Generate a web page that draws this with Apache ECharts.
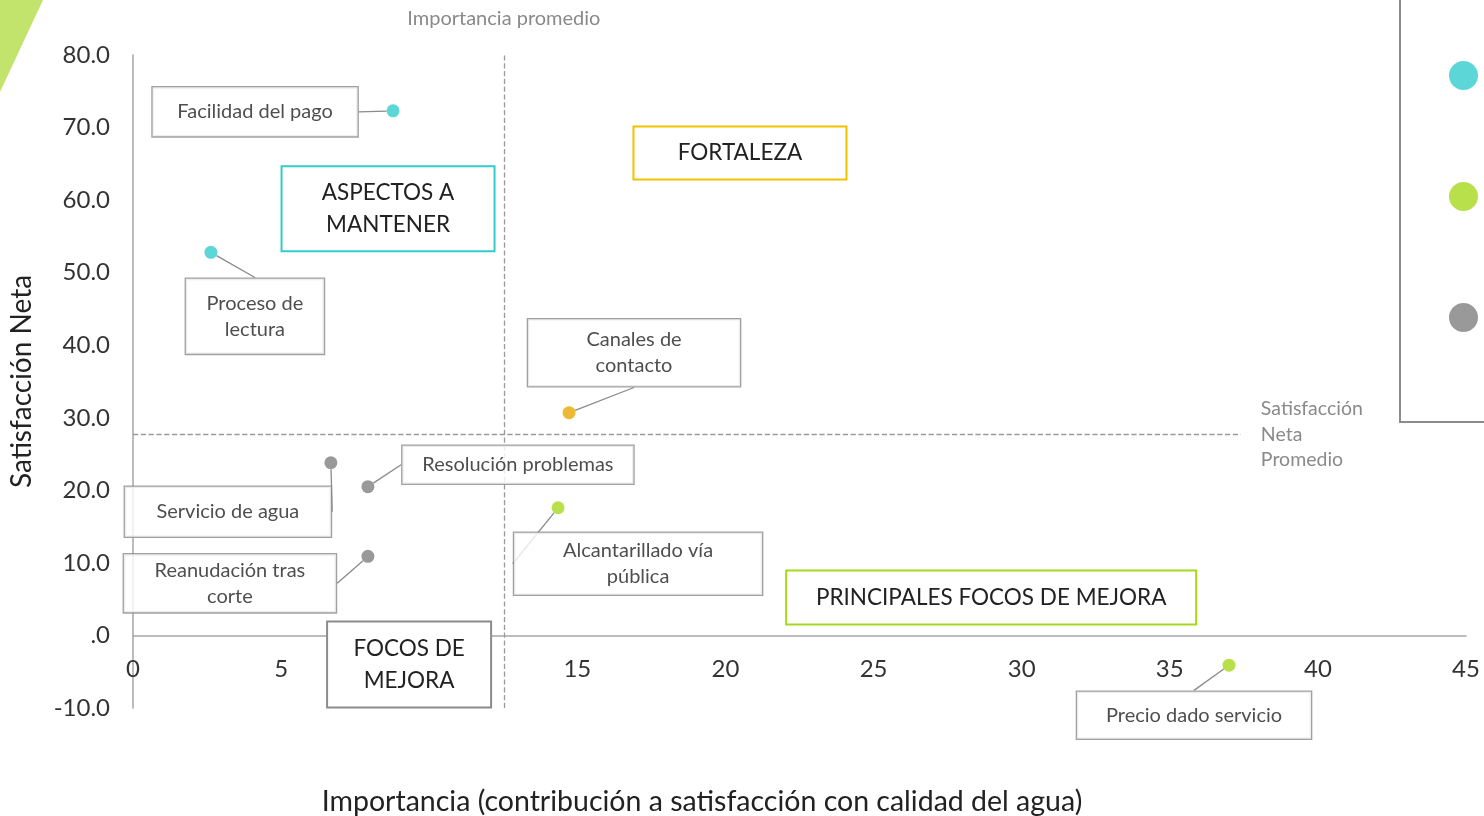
<!DOCTYPE html>
<html>
<head>
<meta charset="utf-8">
<script src="https://cdn.jsdelivr.net/npm/echarts@6/dist/echarts.min.js"></script>
<style>
html, body { margin: 0; padding: 0; background: #fff; }
#chart { width: 1484px; height: 816px; }
</style>
</head>
<body>
<div id="chart"></div>
<script>
var font = 'Lato, "Open Sans", sans-serif';

// axis texts
var xTitle = 'Importancia (contribución a satisfacción con calidad del agua)';
var yTitle = 'Satisfacción Neta';
var avgImportanceLabel = 'Importancia promedio';
var avgSatisfactionLabel = 'Satisfacción\nNeta\nPromedio';

// averages (dashed reference lines)
var avgImportance = 12.52;
var avgSatisfaction = 27.7;
var avgSatisfactionEnd = 37.4;

// groups (legend)
var groupNames = ['Mantener', 'Mejorar', 'Otros'];
var groupColors = ['#33cccc', '#a6d81e', '#7f7f7f'];

// points per group
var mantenerNames = ['Facilidad del pago', 'Proceso de\nlectura'];
var mantenerX = [8.78, 2.63];
var mantenerY = [72.3, 52.8];

var mejorarNames = ['Alcantarillado vía\npública', 'Precio dado servicio'];
var mejorarX = [14.35, 37.0];
var mejorarY = [17.6, -4.1];

var otrosNames = ['Servicio de agua', 'Resolución problemas', 'Reanudación tras\ncorte'];
var otrosX = [6.68, 7.93, 7.93];
var otrosY = [23.8, 20.5, 10.9];

var canalesNames = ['Canales de\ncontacto'];
var canalesX = [14.72];
var canalesY = [30.7];

// callout boxes: [dx, dy, width, height] in px relative to the point
var mantenerBoxes = [[-138, 1, 205, 49], [44, 64, 138, 75]];
var mejorarBoxes = [[80, 56, 248, 62], [-35, 50, 234, 47]];
var otrosBoxes = [[-103, 49, 206, 50], [150, -22, 231, 38], [-138, 27, 212, 58]];
var canalesBoxes = [[65, -60, 212, 67]];

// quadrant tags
var quadNames = ['ASPECTOS A\nMANTENER', 'FORTALEZA', 'PRINCIPALES FOCOS DE MEJORA', 'FOCOS DE\nMEJORA'];
var quadX = [8.61, 20.49, 28.97, 9.32];
var quadY = [58.8, 66.5, 5.23, -4.0];
var quadSizes = [[211, 83], [211, 51], [408, 52], [162, 84]];
var quadColors = ['#33cccc', '#f2c200', '#a6d81e', '#8c8c8c'];

function pointSeries(name, color, names, xs, ys, boxes) {
  return {
    name: name,
    type: 'scatter',
    symbolSize: 13,
    z: 5,
    itemStyle: { color: color },
    data: names.map(function (n, i) {
      return {
        name: n,
        value: [xs[i], ys[i]],
        label: { width: boxes[i][2], height: boxes[i][3] }
      };
    }),
    label: {
      show: true,
      position: 'inside',
      formatter: '{b}',
      align: 'center',
      verticalAlign: 'middle',
      color: '#222',
      fontFamily: font,
      fontSize: 20,
      lineHeight: 26,
      backgroundColor: '#fff',
      borderColor: '#8a8a8a',
      borderWidth: 1.3
    },
    labelLine: { show: true, lineStyle: { color: '#8a8a8a', width: 1.3 } },
    labelLayout: function (p) {
      var b = boxes[p.dataIndex];
      return { dx: b[0], dy: b[1] };
    }
  };
}

var chart = echarts.init(document.getElementById('chart'));

chart.setOption({
  backgroundColor: '#fff',
  animation: false,
  textStyle: { fontFamily: font },
  grid: { left: 133, right: 18, top: 55, bottom: 108, outerBoundsMode: 'none', containLabel: false },
  legend: {
    data: groupNames,
    orient: 'vertical',
    left: 1400,
    top: -10,
    padding: [71, 40, 90, 49],
    itemWidth: 29,
    itemHeight: 29,
    itemGap: 92,
    icon: 'circle',
    borderColor: '#8c8c8c',
    borderWidth: 2,
    textStyle: { color: '#333', fontSize: 18, padding: [0, 0, 0, 20] }
  },
  xAxis: {
    type: 'value',
    min: 0,
    max: 45,
    interval: 5,
    position: 'bottom',
    offset: -72.6,
    splitLine: { show: false },
    axisTick: { show: false },
    axisLine: { onZero: false, lineStyle: { color: '#a6a6a6', width: 1.5 } },
    axisLabel: { color: '#333', fontSize: 24, margin: 22 }
  },
  yAxis: {
    type: 'value',
    min: -10,
    max: 80,
    interval: 10,
    name: yTitle,
    nameLocation: 'middle',
    nameGap: 97,
    nameTextStyle: { color: '#222', fontSize: 28 },
    splitLine: { show: false },
    axisTick: { show: false },
    axisLine: { show: true, lineStyle: { color: '#a6a6a6', width: 1.5 } },
    axisLabel: {
      color: '#333',
      fontSize: 24,
      margin: 23,
      formatter: function (v) { return v === 0 ? '.0' : v.toFixed(1); }
    }
  },
  graphic: [
    {
      type: 'polygon',
      shape: { points: [[0, 0], [43, 0], [0, 92]] },
      style: { fill: '#c2e46c' }
    },
    {
      type: 'text',
      x: 702,
      y: 802,
      style: {
        text: xTitle,
        fill: '#222',
        font: '28.5px ' + font,
        textAlign: 'center',
        textVerticalAlign: 'middle'
      }
    }
  ],
  series: [
    pointSeries(groupNames[0], groupColors[0], mantenerNames, mantenerX, mantenerY, mantenerBoxes),
    pointSeries(groupNames[1], groupColors[1], mejorarNames, mejorarX, mejorarY, mejorarBoxes),
    pointSeries(groupNames[2], groupColors[2], otrosNames, otrosX, otrosY, otrosBoxes),
    pointSeries('Canales', '#e8a600', canalesNames, canalesX, canalesY, canalesBoxes),
    {
      name: 'referencias',
      type: 'scatter',
      data: [],
      z: 3,
      markLine: {
        silent: true,
        symbol: 'none',
        lineStyle: { type: 'dashed', color: '#9a9a9a', width: 1.3 },
        data: [
          {
            xAxis: avgImportance,
            label: {
              show: true, position: 'end', distance: 26,
              formatter: avgImportanceLabel,
              color: '#8a8a8a', fontSize: 20, fontFamily: font
            }
          },
          [
            {
              coord: [0, avgSatisfaction],
              label: {
                show: true, position: 'end', distance: 20,
                formatter: avgSatisfactionLabel,
                color: '#8a8a8a', fontSize: 19.5, lineHeight: 25.5, fontFamily: font
              }
            },
            { coord: [avgSatisfactionEnd, avgSatisfaction] }
          ]
        ]
      },
      markPoint: {
        silent: true,
        symbol: 'rect',
        symbolSize: 1,
        itemStyle: { color: 'rgba(0,0,0,0)' },
        data: quadNames.map(function (n, i) {
          return {
            name: n,
            coord: [quadX[i], quadY[i]],
            label: {
              width: quadSizes[i][0],
              height: quadSizes[i][1],
              borderColor: quadColors[i]
            }
          };
        }),
        label: {
          show: true,
          position: 'inside',
          formatter: '{b}',
          align: 'center',
          verticalAlign: 'middle',
          color: '#222',
          fontFamily: font,
          fontSize: 22.5,
          lineHeight: 32,
          backgroundColor: '#fff',
          borderWidth: 2
        }
      }
    }
  ]
});
</script>
</body>
</html>
